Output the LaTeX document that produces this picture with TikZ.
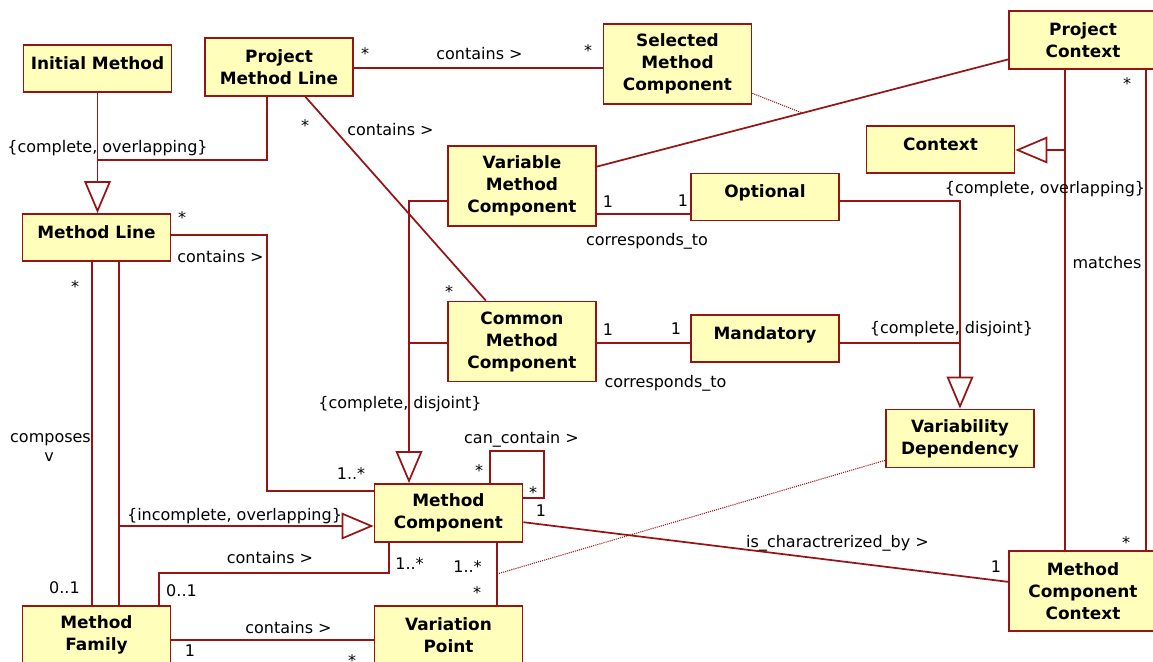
\documentclass[tikz,border=0pt]{standalone}
\usepackage{fontspec}
\setmainfont{DejaVu Sans}
\usetikzlibrary{arrows.meta}
\definecolor{umlred}{RGB}{150,20,20}
\definecolor{umlfill}{RGB}{255,255,187}
\tikzset{
	cls/.style={draw=umlred, fill=umlfill, line width=1.3pt, inner sep=0pt, minimum width=111pt, align=center, font=\bfseries\fontsize{12.7}{16.5}\selectfont},
	one/.style={cls, minimum height=35.25pt, text height=9.5pt, text depth=8.5pt},
	two/.style={cls, minimum height=43.5pt},
	three/.style={cls, minimum height=60pt},
	lbl/.style={font=\fontsize{12}{14}\selectfont, inner sep=0pt, anchor=base},
	assoc/.style={umlred, line width=1.3pt},
	gen/.style={assoc, -{Triangle[length=24pt, width=20pt, fill=white]}},
	note/.style={umlred, line width=0.8pt, dash pattern=on 0.8pt off 0.8pt}
}
\begin{document}
\begin{tikzpicture}[x=0.75pt, y=-0.75pt]
	\useasboundingbox (0,0) rectangle (1153,661);
	\clip (0,0) rectangle (1153,661);
	\node[one] (initm) at (97.5,68.5) {Initial Method};
	\node[two] (pml) at (279,67) {Project\\Method Line};
	\node[one] (ml) at (96.5,237.5) {Method Line};
	\node[three] (smc) at (677.5,64) {Selected\\Method\\Component};
	\node[two] (pc) at (1083,40) {Project\\Context};
	\node[one] (ctx) at (940.5,149.5) {Context};
	\node[three] (vmc) at (522,186) {Variable\\Method\\Component};
	\node[one] (opt) at (765,197) {Optional};
	\node[three] (cmc) at (522,341.5) {Common\\Method\\Component};
	\node[one] (mand) at (765,338.5) {Mandatory};
	\node[two] (vd) at (960,438.5) {Variability\\Dependency};
	\node[two] (mc) at (448.5,513) {Method\\Component};
	\node[three] (mcc) at (1083,591) {Method\\Component\\Context};
	\node[two] (mf) at (96.5,635) {Method\\Family};
	\node[two] (vp) at (448.5,635) {Variation\\Point};
	\draw[gen] (initm.south) -- (initm.south |- ml.north);
	\coordinate (j1) at (initm.south |- 0,160);
	\draw[assoc] (pml.south -| 267,0) |- (j1);
	\draw[assoc] (pml.east |- 0,68) -- (smc.west |- 0,68);
	\draw[assoc] (pml) -- (cmc);
	\draw[assoc] (pc) -- (vmc) coordinate[pos=.5] (a1);
	\draw[note] (smc) -- (a1);
	\coordinate (j2) at (409,343);
	\draw[gen] (vmc.west |- 0,201) -| (mc.north -| j2);
	\draw[assoc] (cmc.west |- j2) -- (j2);
	\draw[assoc] (vmc.east |- 0,214) -- (opt.west |- 0,214);
	\draw[assoc] (cmc.east |- 0,343) -- (mand.west |- 0,343);
	\coordinate (j3) at (vd.north |- 0,343);
	\draw[gen] (opt.east |- 0,201) -| (vd.north);
	\draw[assoc] (mand.east |- j3) -- (j3);
	\coordinate (j4) at (1065,150);
	\draw[assoc] (pc.south -| j4) -- (mcc.north -| j4);
	\draw[gen] (j4) -- (ctx.east |- j4);
	\draw[assoc] (pc.south -| 1146,0) -- (mcc.north -| 1146,0);
	\draw[assoc] (ml.east |- 0,235) -| (267,491) -- (mc.west |- 0,491);
	\draw[assoc] (ml.south -| 92,0) -- (mf.north -| 92,0);
	\coordinate (j5) at (119,526);
	\draw[assoc] (ml.south -| j5) -- (mf.north -| j5);
	\draw[gen] (j5) -- (mc.west |- j5);
	\draw[assoc] (mc.south -| 389,0) |- (159,573) -- (mf.north -| 159,0);
	\draw[assoc] (mc.south -| 497,0) -- (vp.north -| 497,0) coordinate[pos=.5] (a2);
	\draw[note] (a2) -- (vd);
	\draw[assoc] (mf.east |- 0,640) -- (vp.west |- 0,640);
	\draw[assoc] (mc.north -| 490,0) |- (544,451) |- (mc.east |- 0,498);
	\draw[assoc] (mc) -- (mcc);
	\foreach \x/\y/\t [count=\i] in {365/59/*, 588/56/*, 305/131/*, 182/223/*, 75/292/*, 64.5/593/0..1, 449/297/*, 608/207/1, 683/206/1, 608/335/1, 676/334/1, 1127/89/*, 479/476/*, 533/498/*, 541/516/1, 351/479/1..*, 409.5/569/1..*, 181.5/596/0..1, 467.5/572/1..*, 477/598/*, 352/666/*, 1126/548/*, 996/572/1, 190/656/1}
		\node[lbl] (m\i) at (\x,\y) {\t};
	\node[lbl] (c1) at (479.5,59) {contains >};
	\node[lbl] (c2) at (390.5,135) {contains >};
	\node[lbl] (c3) at (220.5,262) {contains >};
	\node[lbl] (c4) at (270,563) {contains >};
	\node[lbl] (c5) at (288.5,633) {contains >};
	\node[lbl] (co1) at (107.5,152) {\{complete, overlapping\}};
	\node[lbl] (co2) at (1045,193) {\{complete, overlapping\}};
	\node[lbl] (cd1) at (400,408) {\{complete, disjoint\}};
	\node[lbl] (cd2) at (951.5,333) {\{complete, disjoint\}};
	\node[lbl] (io) at (234.5,520) {\{incomplete, overlapping\}};
	\node[lbl] (ct1) at (647,245) {corresponds\_to};
	\node[lbl] (ct2) at (665.5,387) {corresponds\_to};
	\node[lbl] (cc) at (521.5,443) {can\_contain >};
	\node[lbl] (icb) at (837.5,547) {is\_charactrerized\_by >};
	\node[lbl] (mt) at (1107,268) {matches};
	\node[lbl] (cp) at (50.5,442) {composes};
	\node[lbl] (cpv) at (49,461.5) {v};
\end{tikzpicture}
\end{document}
